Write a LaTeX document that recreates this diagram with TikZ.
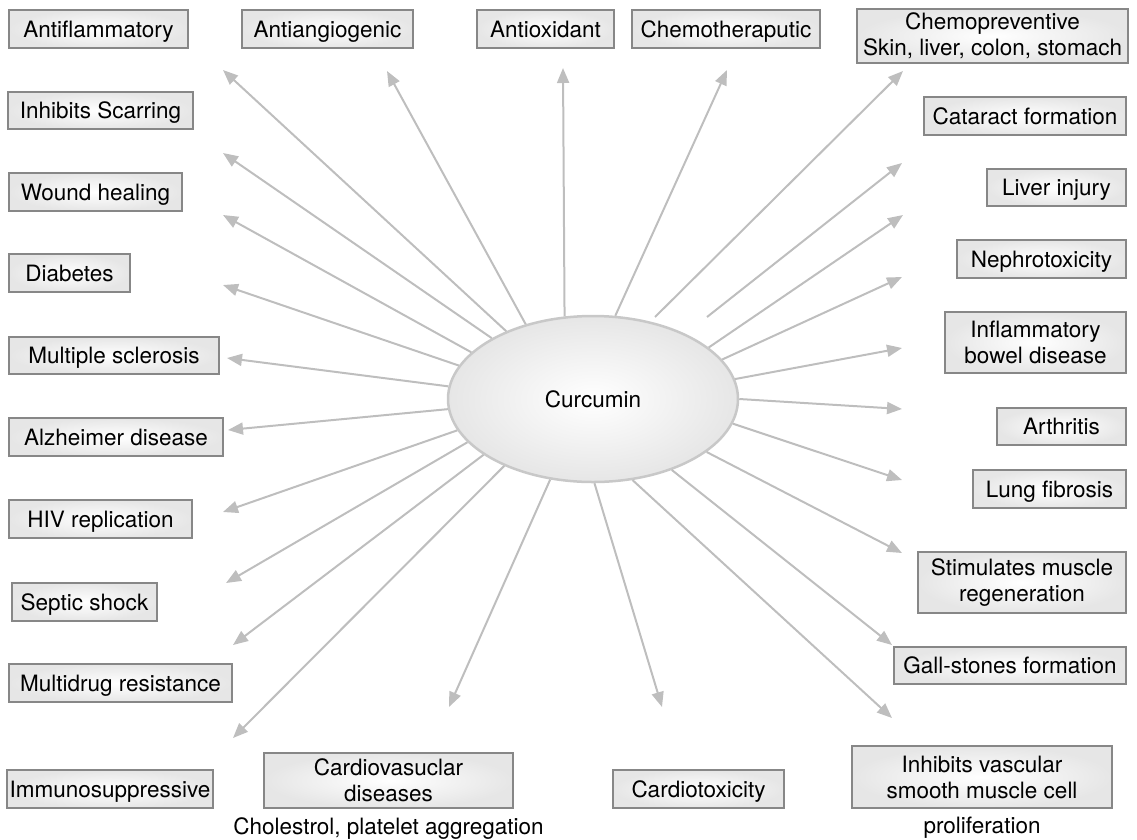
\documentclass[tikz,border=0pt]{standalone}
\usepackage{fontspec}
\setmainfont{TeX Gyre Heros}
\usepackage{xcolor}
\definecolor{arrowgrey}{RGB}{190,190,190}
\definecolor{boxedge}{RGB}{135,135,135}
\definecolor{boxshade}{RGB}{230,230,230}
\definecolor{ovaledge}{RGB}{200,200,200}
\usetikzlibrary{positioning,shapes,arrows.meta}
\tikzset{
	effect/.style={draw=boxedge, line width=1.2pt, inner color=white, outer color=boxshade, inner sep=0pt, align=center, font=\fontsize{22.5}{26}\selectfont, text height=16pt, text depth=0pt},
	effecttwo/.style={effect, text height=, text depth=},
	note/.style={inner sep=0pt, font=\fontsize{22.5}{26}\selectfont},
	hub/.style={ellipse, draw=ovaledge, line width=2.5pt, inner color=white, outer color=boxshade, minimum width=290pt, minimum height=166pt, font=\fontsize{22.5}{26}\selectfont},
	arr/.style={draw=arrowgrey, line width=2pt, -{Triangle[length=15pt, width=12pt]}}
}

\begin{document}
\begin{tikzpicture}[x=1pt, y=-1pt]
					\useasboundingbox (0,0) rectangle (1137,839);
					% centre
					\node[hub] (cur) at (593,399) {Curcumin};
					% top row
					\node[effect, minimum width=179pt, minimum height=38pt] (antiflam) at (98.5,29) {Antiflammatory};
					\node[effect, minimum width=171pt, minimum height=38pt] (antiang) at (327.5,29) {Antiangiogenic};
					\node[effect, minimum width=137pt, minimum height=38pt] (antiox) at (545.5,29) {Antioxidant};
					\node[effect, minimum width=188pt, minimum height=38pt] (chemother) at (726,29) {Chemotheraputic};
					\node[effecttwo, minimum width=271pt, minimum height=54pt] (chemoprev) at (992.5,36) {Chemopreventive\\Skin, liver, colon, stomach};
					% left column
					\node[effect, minimum width=185pt, minimum height=37pt] (scarring) at (100.5,110.5) {Inhibits Scarring};
					\node[effect, minimum width=173pt, minimum height=38pt] (wound) at (95.5,192) {Wound healing};
					\node[effect, minimum width=121pt, minimum height=38pt] (diabetes) at (69.5,273) {Diabetes};
					\node[effect, minimum width=210pt, minimum height=37pt] (msclero) at (114,355.5) {Multiple sclerosis};
					\node[effect, minimum width=214pt, minimum height=38pt] (alzheimer) at (116,437) {Alzheimer disease};
					\node[effect, minimum width=183pt, minimum height=38pt] (hiv) at (100.5,519) {HIV replication};
					\node[effect, minimum width=145pt, minimum height=38pt] (septic) at (84.5,602) {Septic shock};
					\node[effect, minimum width=223pt, minimum height=38pt] (multidrug) at (120.5,683) {Multidrug resistance};
					% bottom row
					\node[effect, minimum width=206pt, minimum height=38pt] (immuno) at (110,789) {Immunosuppressive};
					\node[effecttwo, minimum width=249pt, minimum height=55pt] (cardiovasc) at (388.5,780.5) {Cardiovasuclar\\diseases};
					\node[note, below=9pt of cardiovasc] (cardionote) {Cholestrol, platelet aggregation};
					\node[effect, minimum width=171pt, minimum height=38pt] (cardiotox) at (698.5,789) {Cardiotoxicity};
					\node[effecttwo, minimum width=260pt, minimum height=62pt] (vascular) at (982,777) {Inhibits vascular\\smooth muscle cell};
					\node[note, below=8pt of vascular] (vascnote) {proliferation};
					% right column
					\node[effect, minimum width=202pt, minimum height=38pt] (cataract) at (1025,116) {Cataract formation};
					\node[effect, minimum width=139pt, minimum height=37pt] (liver) at (1056.5,187.5) {Liver injury};
					\node[effect, minimum width=169pt, minimum height=38pt] (nephro) at (1041.5,259) {Nephrotoxicity};
					\node[effecttwo, minimum width=181pt, minimum height=61pt] (bowel) at (1035.5,342.5) {Inflammatory\\bowel disease};
					\node[effect, minimum width=129pt, minimum height=37pt] (arthritis) at (1061.5,426.5) {Arthritis};
					\node[effect, minimum width=153pt, minimum height=38pt] (lung) at (1049.5,489) {Lung fibrosis};
					\node[effecttwo, minimum width=208pt, minimum height=61pt] (muscle) at (1022,582.5) {Stimulates muscle\\regeneration};
					\node[effect, minimum width=232pt, minimum height=37pt] (gall) at (1010,665.5) {Gall-stones formation};
					% arrow tips
					\coordinate (a-antiflam) at (223,70);
					\coordinate (a-antiang) at (387,71);
					\coordinate (a-antiox) at (563,68);
					\coordinate (a-chemother) at (727,70);
					\coordinate (a-chemoprev) at (903,71);
					\coordinate (a-scarring) at (223,153);
					\coordinate (a-wound) at (223,215);
					\coordinate (a-diabetes) at (223,285);
					\coordinate (a-msclero) at (227,358);
					\coordinate (a-alzheimer) at (228,430);
					\coordinate (a-hiv) at (223,512);
					\coordinate (a-septic) at (226,583);
					\coordinate (a-multidrug) at (233,645);
					\coordinate (a-immuno) at (233,738);
					\coordinate (a-cardiovasc) at (449,707);
					\coordinate (a-cardiotox) at (662,707);
					\coordinate (a-vascular) at (892,718);
					\coordinate (a-gall) at (892,645);
					\coordinate (a-muscle) at (902,553);
					\coordinate (a-lung) at (902,480);
					\coordinate (a-arthritis) at (902,409);
					\coordinate (a-bowel) at (902,348);
					\coordinate (a-nephro) at (902,277);
					\coordinate (a-liver) at (903,215);
					\coordinate (a-cataract) at (902,163);
					% loose starts
					\coordinate (s-cataract) at (707,317);
					\coordinate (s-chemoprev) at (655,317);
					% arrows
					\draw[arr] (cur.142.5) -- (a-antiflam);
					\draw[arr] (cur.132.6) -- (a-antiang);
					\draw[arr] (cur.109.9) -- (a-antiox);
					\draw[arr] (cur.75.6) -- (a-chemother);
					\draw[arr] (s-chemoprev) -- (a-chemoprev);
					\draw[arr] (cur.149) -- (a-scarring);
					\draw[arr] (cur.159.5) -- (a-wound);
					\draw[arr] (cur.166.8) -- (a-diabetes);
					\draw[arr] (cur.175.3) -- (a-msclero);
					\draw[arr] (cur.184.7) -- (a-alzheimer);
					\draw[arr] (cur.193.2) -- (a-hiv);
					\draw[arr] (cur.199.3) -- (a-septic);
					\draw[arr] (cur.207.8) -- (a-multidrug);
					\draw[arr] (cur.217.7) -- (a-immuno);
					\draw[arr] (cur.242) -- (a-cardiovasc);
					\draw[arr] (cur.271) -- (a-cardiotox);
					\draw[arr] (cur.296.6) -- (a-vascular);
					\draw[arr] (cur.318.3) -- (a-gall);
					\draw[arr] (cur.335.3) -- (a-muscle);
					\draw[arr] (cur.350.4) -- (a-lung);
					\draw[arr] (cur.0) -- (a-arthritis);
					\draw[arr] (cur.8.3) -- (a-bowel);
					\draw[arr] (cur.17) -- (a-nephro);
					\draw[arr] (cur.24.7) -- (a-liver);
					\draw[arr] (s-cataract) -- (a-cataract);
			\end{tikzpicture}
\end{document}
